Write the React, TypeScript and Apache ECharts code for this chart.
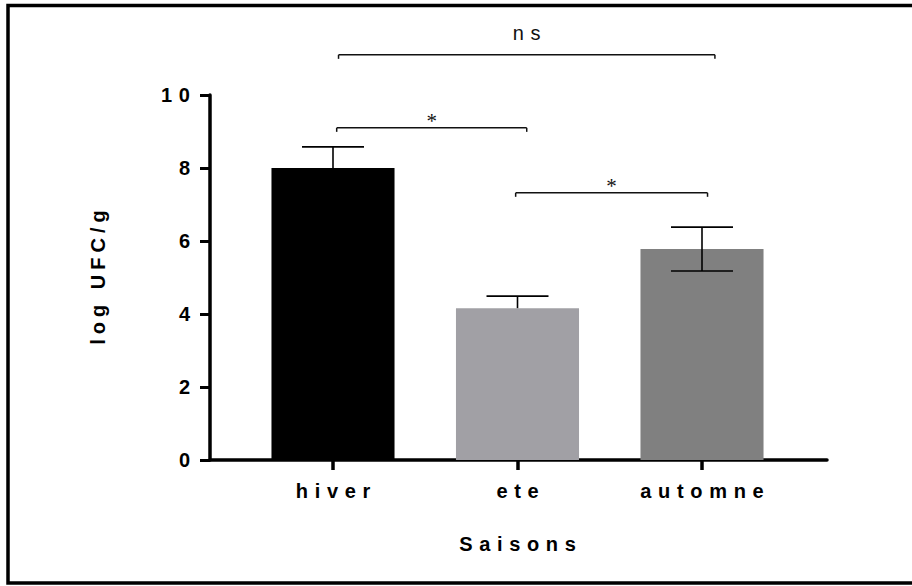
import React, { useEffect, useRef } from "react";
import * as echarts from "echarts";

const categories = ["hiver", "ete", "automne"];
const means = [8.0, 4.16, 5.78];
const errUp = [0.58, 0.33, 0.6];
const errDown = [0.58, 0, 0.6];
const barColors = ["#000000", "#a1a0a5", "#808080"];
const yMin = 0;
const yMax = 10;
const yInterval = 2;
const xTitle = "Saisons";
const yTitle = "log UFC/g";
// significance brackets: from category position, to category position, height (axis units), label
const bracketFrom = [0.02, 0.99, 0.03];
const bracketTo = [1.05, 2.03, 2.07];
const bracketY = [9.1, 7.32, 11.1];
const bracketLabels = ["*", "*", "ns"];

const FONT = "'Liberation Sans', Arial, sans-serif";
const spaced = (s: string, sep: string) => s.split("").join(sep);

export default function App() {
  const ref = useRef<HTMLDivElement>(null);
  useEffect(() => {
    if (!ref.current) return;
    const chart = echarts.init(ref.current, undefined, { renderer: "svg" });
    const posX = (api: any, v: number, y: number) => {
      const base = Math.floor(v);
      const p = api.coord([base, y]);
      return [p[0] + (v - base) * api.size([1, 0])[0], p[1]];
    };
    const option: any = {
      animation: false,
      backgroundColor: "#ffffff",
      graphic: [
        {
          type: "rect",
          shape: { x: 8, y: 5.5, width: 1000, height: 577.5 },
          style: { fill: "none", stroke: "#000", lineWidth: 3.5 },
          silent: true,
        },
      ],
      grid: [
        { left: 210, right: 85, top: 95, bottom: 126 },
        { left: 240.75, right: 117.75, top: 95, bottom: 126 },
      ],
      xAxis: [
        {
          type: "value",
          gridIndex: 0,
          min: 0,
          max: 1,
          axisLine: { show: true, lineStyle: { color: "#000", width: 3.5 } },
          axisTick: { show: false },
          axisLabel: { show: false },
          splitLine: { show: false },
        },
        {
          type: "category",
          gridIndex: 1,
          data: categories,
          axisLine: { show: false },
          axisTick: {
            show: true,
            alignWithLabel: true,
            length: 10,
            lineStyle: { color: "#000", width: 3.5 },
          },
          axisLabel: {
            margin: 21,
            color: "#000",
            fontSize: 20,
            fontWeight: "bold",
            fontFamily: FONT,
            formatter: (v: string) => spaced(v, "\u2004"),
          },
          name: spaced(xTitle, "\u2004"),
          nameLocation: "middle",
          nameGap: 74,
          nameTextStyle: { color: "#000", fontSize: 20, fontWeight: "bold", fontFamily: FONT },
        },
      ],
      yAxis: [
        {
          type: "value",
          gridIndex: 0,
          min: yMin,
          max: yMax,
          interval: yInterval,
          axisLine: { show: true, lineStyle: { color: "#000", width: 3.5 } },
          axisTick: { show: true, length: 10, lineStyle: { color: "#000", width: 3 } },
          axisLabel: {
            margin: 20,
            color: "#000",
            fontSize: 20,
            fontWeight: "bold",
            fontFamily: FONT,
            formatter: (v: number) => spaced(String(v), "\u2004"),
          },
          splitLine: { show: false },
          name: spaced(yTitle, "\u2005"),
          nameLocation: "middle",
          nameGap: 102,
          nameRotate: 90,
          nameTextStyle: { color: "#000", fontSize: 20, fontWeight: "bold", fontFamily: FONT },
        },
        { type: "value", gridIndex: 1, min: yMin, max: yMax, show: false },
      ],
      series: [
        {
          type: "bar",
          xAxisIndex: 1,
          yAxisIndex: 1,
          barWidth: "66.7%",
          data: means.map((m, i) => ({ value: m, itemStyle: { color: barColors[i] } })),
          z: 2,
        },
        {
          type: "custom",
          xAxisIndex: 1,
          yAxisIndex: 1,
          z: 3,
          clip: false,
          data: means.map((m, i) => [i, m, m + errUp[i], m - errDown[i]]),
          renderItem: (params: any, api: any) => {
            const i = api.value(0);
            const mid = api.coord([i, api.value(1)]);
            const top = api.coord([i, api.value(2)]);
            const bot = api.coord([i, api.value(3)]);
            const half = api.size([1, 0])[0] * 0.168;
            const st = { stroke: "#000", lineWidth: 1.6 };
            const children: any[] = [
              { type: "line", shape: { x1: top[0], y1: top[1], x2: bot[0], y2: bot[1] }, style: st },
              { type: "line", shape: { x1: top[0] - half, y1: top[1], x2: top[0] + half, y2: top[1] }, style: st },
            ];
            if (bot[1] > mid[1] + 0.5) {
              children.push({
                type: "line",
                shape: { x1: bot[0] - half, y1: bot[1], x2: bot[0] + half, y2: bot[1] },
                style: st,
              });
            }
            return { type: "group", children };
          },
        },
        {
          type: "custom",
          xAxisIndex: 1,
          yAxisIndex: 1,
          z: 4,
          clip: false,
          data: bracketY.map((y, i) => [i, y]),
          renderItem: (params: any, api: any) => {
            const k = params.dataIndex;
            const y = bracketY[k];
            const a = posX(api, bracketFrom[k], y);
            const b = posX(api, bracketTo[k], y);
            const st = { stroke: "#111", lineWidth: 1.5 };
            const label = bracketLabels[k];
            const isStar = label === "*";
            return {
              type: "group",
              children: [
                { type: "line", shape: { x1: a[0], y1: a[1], x2: b[0], y2: b[1] }, style: st },
                { type: "line", shape: { x1: a[0], y1: a[1], x2: a[0], y2: a[1] + 4 }, style: st },
                { type: "line", shape: { x1: b[0], y1: b[1], x2: b[0], y2: b[1] + 4 }, style: st },
                {
                  type: "text",
                  style: {
                    text: isStar ? label : spaced(label, "\u2004"),
                    x: (a[0] + b[0]) / 2,
                    y: a[1] - (isStar ? 7 : 22),
                    align: "center",
                    verticalAlign: "middle",
                    fill: "#111",
                    font: isStar
                      ? "21px 'Liberation Serif', 'Times New Roman', serif"
                      : "20px " + FONT,
                  },
                },
              ],
            };
          },
        },
      ],
    };
    chart.setOption(option);
    return () => chart.dispose();
  }, []);
  return (
    <div
      ref={ref}
      style={{ position: "fixed", left: 0, top: 0, width: 912, height: 586 }}
    />
  );
}
